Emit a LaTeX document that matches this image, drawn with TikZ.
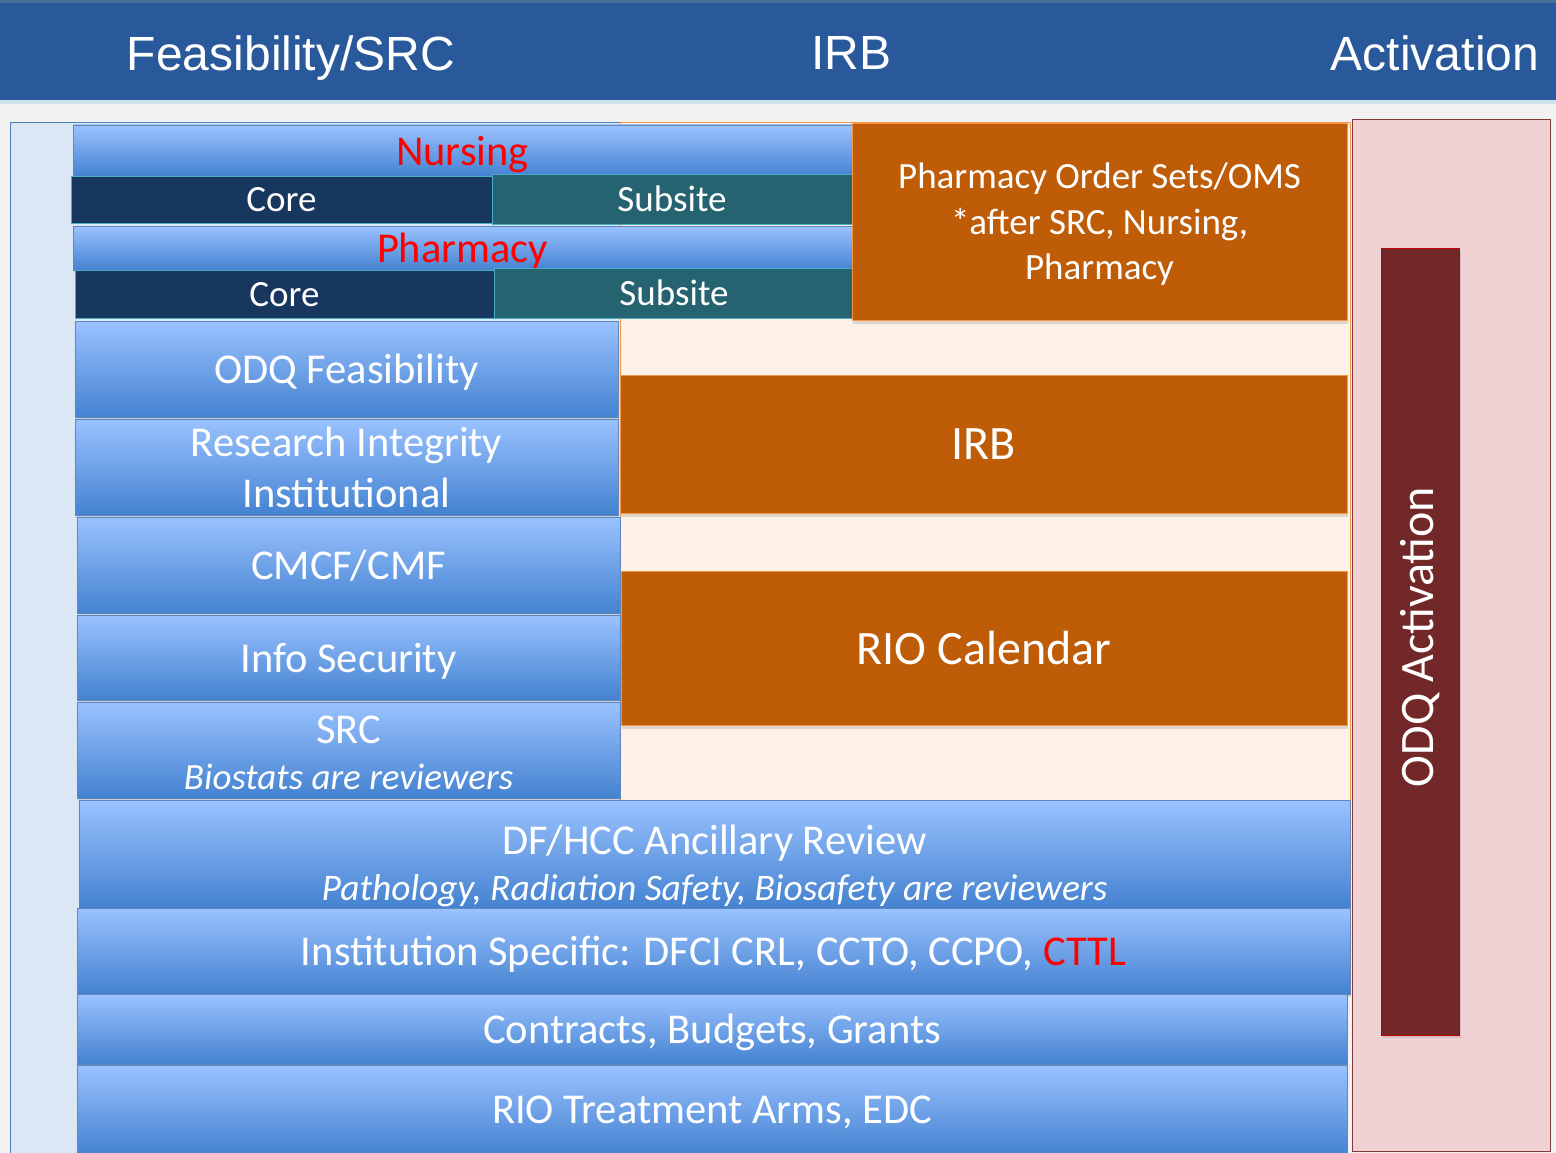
\documentclass[tikz,border=0pt]{standalone}
\usepackage{fontspec}
\setmainfont{Carlito}
\newfontfamily\headfont{Liberation Sans}
\usetikzlibrary{shadows}

\definecolor{headblue}{RGB}{41,89,155}
\definecolor{headtop}{RGB}{70,110,150}
\definecolor{headedge}{RGB}{205,228,236}
\definecolor{bggray}{RGB}{242,242,242}
\definecolor{panelblue}{RGB}{220,231,245}
\definecolor{panelline}{RGB}{79,129,189}
\definecolor{peach}{RGB}{253,241,232}
\definecolor{barlight}{RGB}{154,194,255}
\definecolor{bardark}{RGB}{68,130,208}
\definecolor{barline}{RGB}{95,135,190}
\definecolor{navy}{RGB}{23,55,94}
\definecolor{teal}{RGB}{37,99,112}
\definecolor{cyanline}{RGB}{75,172,198}
\definecolor{rust}{RGB}{191,92,8}
\definecolor{rustline}{RGB}{247,150,70}
\definecolor{pinkpanel}{RGB}{240,210,212}
\definecolor{pinkline}{RGB}{128,56,56}
\definecolor{maroon}{RGB}{114,40,40}
\definecolor{marline}{RGB}{192,0,0}
\definecolor{hotred}{RGB}{255,0,0}

\newcommand{\fs}[2]{\fontsize{#1}{#2}\selectfont}

\tikzstyle{heading} = [text=white, text depth=0pt, font=\headfont\fs{48}{56}]
\tikzstyle{bar} = [draw=barline, top color=barlight, bottom color=bardark, anchor=north west, inner sep=0pt, outer sep=0pt, align=center, text=white, text depth=0pt, font=\fs{42.5}{51}, drop shadow={opacity=0.25, shadow xshift=1pt, shadow yshift=-3pt}]
\tikzstyle{core} = [draw=cyanline, thick, fill=navy, anchor=north west, inner sep=0pt, outer sep=0pt, text=white, text depth=-2pt, font=\fs{37}{42}]
\tikzstyle{subsite} = [core, fill=teal]
\tikzstyle{rustbox} = [draw=rustline, thick, fill=rust, anchor=north west, inner sep=0pt, outer sep=0pt, align=center, text=white, text depth=-3pt, drop shadow={opacity=0.25, shadow xshift=1pt, shadow yshift=-4pt}]
\tikzstyle{actbar} = [draw=marline, thick, fill=maroon, inner sep=0pt, text=white, font=\fs{48}{54}, drop shadow={opacity=0.25, shadow xshift=2pt, shadow yshift=-3pt}]

\begin{document}
\begin{tikzpicture}[x=1pt, y=-1pt]
    \useasboundingbox (0,0) rectangle (1556,1153);
    % title band and backdrop
    \fill[bggray] (0,100) rectangle (1556,1153);
    \fill[headblue] (0,0) rectangle (1556,100);
    \fill[headtop] (0,0) rectangle (1556,3);
    \fill[headedge] (0,100) rectangle (1556,104);
    \node (hfeas) [heading] at (291,53) {Feasibility/SRC};
    \node (hirb) [heading] at (851,53) {IRB};
    \node (hact) [heading] at (1435,53) {Activation};

    % panels behind the boxes
    \draw[panelline, fill=panelblue] (10,122) rectangle (620,1160);
    \draw[rustline, fill=peach] (620,122) rectangle (1350,800);
    \draw[pinkline, thick, fill=pinkpanel] (1352,119) rectangle (1550,1151);

    % nursing and pharmacy
    \node (nursing) [bar, text=hotred, minimum width=779pt, minimum height=51pt] at (73,125) {Nursing};
    \node (ncore) [core, minimum width=421pt, minimum height=47pt] at (71,176) {Core};
    \node (nsub) [subsite, minimum width=360pt, minimum height=50pt] at (492,174) {Subsite};
    \node (pharm) [bar, text=hotred, minimum width=779pt, minimum height=44pt] at (73,226) {Pharmacy};
    \node (pcore) [core, minimum width=419pt, minimum height=48pt] at (75,270) {Core};
    \node (psub) [subsite, minimum width=360pt, minimum height=50pt] at (494,268) {Subsite};
    \node (orders) [rustbox, font=\fs{37}{45.5}, text depth=-1pt, minimum width=495pt, minimum height=197pt] at (852,123) {Pharmacy Order Sets/OMS\\*after SRC, Nursing,\\Pharmacy};

    % feasibility column
    \node (odqfeas) [bar, minimum width=543pt, minimum height=96pt] at (75,321) {ODQ Feasibility};
    \node (integrity) [bar, minimum width=543pt, minimum height=96pt] at (75,419) {Research Integrity\\Institutional};
    \node (cmcf) [bar, text depth=-7pt, minimum width=543pt, minimum height=96pt] at (77,517) {CMCF/CMF};
    \node (infosec) [bar, minimum width=543pt, minimum height=85pt] at (77,615) {Info Security};
    \node (src) [bar, font=\fs{42.5}{46}, minimum width=543pt, minimum height=96pt] at (77,702) {\rule{0pt}{33pt}SRC\\{\itshape\fs{37}{46}Biostats are reviewers}};

    % IRB column
    \node (irb) [rustbox, font=\fs{48}{54}, minimum width=727pt, minimum height=138pt] at (620,375) {IRB};
    \node (riocal) [rustbox, font=\fs{48}{54}, minimum width=726pt, minimum height=154pt] at (621,571) {RIO Calendar};

    % reviews across all phases
    \node (ancillary) [bar, font=\fs{42.5}{46}, minimum width=1271pt, minimum height=108pt] at (79,800) {\rule{0pt}{47pt}DF/HCC Ancillary Review\\{\itshape\fs{37.5}{46}Pathology, Radiation Safety, Biosafety are reviewers}};
    \node (inst) [bar, minimum width=1273pt, minimum height=86pt] at (77,908) {Institution Specific: DFCI CRL, CCTO, CCPO, \textcolor{hotred}{CTTL}};
    \node (contracts) [bar, minimum width=1270pt, minimum height=70pt] at (77,994) {Contracts, Budgets, Grants};
    \node (rioarms) [bar, text depth=-2pt, minimum width=1270pt, minimum height=90pt] at (77,1065) {RIO Treatment Arms, EDC};

    % activation
    \node (odqact) [actbar, rotate=90, minimum width=787pt, minimum height=78pt] at (1420,641.5) {\hspace*{9pt}ODQ Activation};
\end{tikzpicture}
\end{document}
